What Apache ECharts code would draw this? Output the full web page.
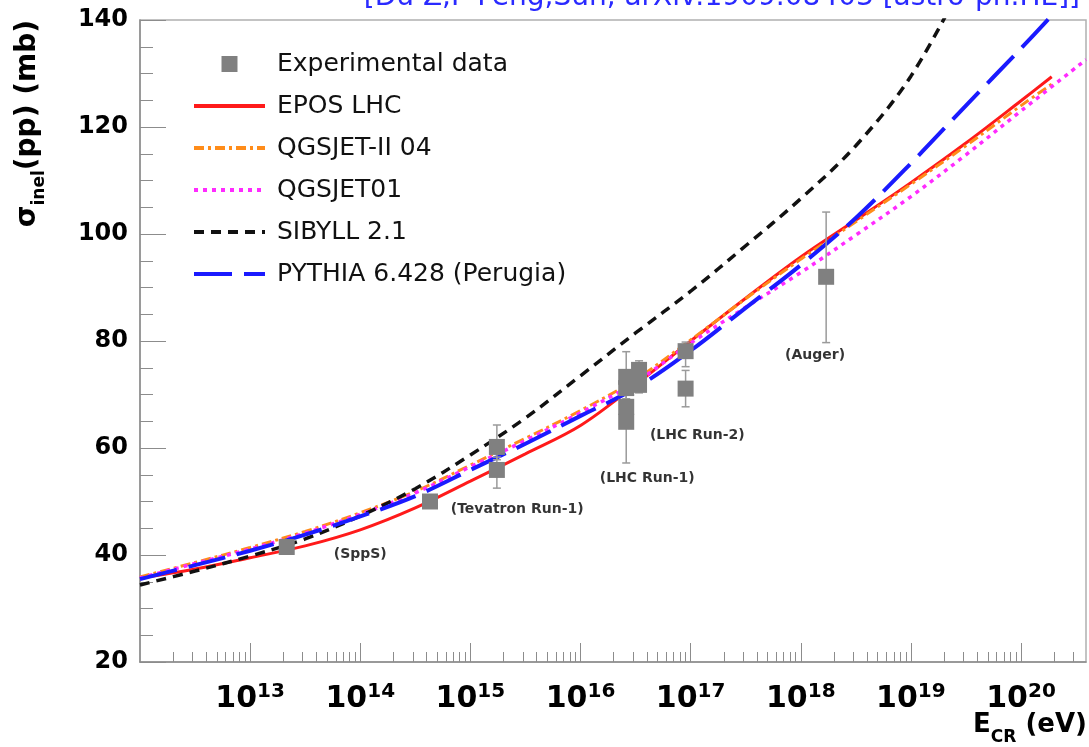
<!DOCTYPE html>
<html>
<head>
<meta charset="utf-8">
<script src="https://cdn.jsdelivr.net/npm/echarts@6/dist/echarts.min.js"></script>
<style>
  html, body { margin: 0; padding: 0; background: #ffffff; }
  #chart { width: 1089px; height: 747px; }
</style>
</head>
<body>
<div id="chart"></div>
<script>
// ---- model curves: cosmic-ray energy (eV) and inelastic pp cross section (mb) ----
const halfDecades = [1e12, 3.16e12, 1e13, 3.16e13, 1e14, 3.16e14, 1e15, 3.16e15,
                     1e16, 3.16e16, 1e17, 3.16e17, 1e18, 3.16e18, 1e19, 3.16e19, 1e20];

const eposEnergy = halfDecades.concat([1.9e20]);
const eposSigma  = [35.7, 37.4, 39.5, 41.7, 44.7, 48.8, 53.8, 58.9, 64.2, 71.8,
                    80.0, 88.0, 95.7, 102.6, 109.6, 117.0, 124.9, 129.4];

const qgsjet2Energy = halfDecades.concat([1.9e20]);
const qgsjet2Sigma  = [35.9, 38.6, 41.4, 44.4, 47.9, 51.9, 56.8, 61.8, 67.0, 72.8,
                       80.2, 87.9, 95.3, 102.3, 109.3, 116.5, 124.0, 128.0];

const qgsjet01Energy = halfDecades.concat([3.9e20]);
const qgsjet01Sigma  = [35.7, 38.4, 41.1, 44.1, 47.6, 51.6, 56.5, 61.4, 66.6, 72.3,
                        79.6, 86.3, 92.8, 99.8, 107.0, 114.8, 123.0, 132.6];

const sibyllEnergy = halfDecades.slice(0, 16);
const sibyllSigma  = [34.4, 37.0, 39.8, 43.0, 47.3, 52.4, 58.7, 65.6, 73.5, 81.5,
                      89.3, 97.8, 106.6, 116.5, 129.5, 148.0];

const pythiaEnergy = halfDecades.concat([2.0e20]);
const pythiaSigma  = [35.5, 38.1, 40.8, 43.8, 47.2, 51.0, 55.9, 60.8, 66.0, 71.2,
                      78.2, 86.2, 94.2, 103.0, 113.2, 124.0, 134.7, 141.3];

// ---- measurements (equivalent fixed-target energy) ----
const expEnergy  = [2.15e13, 4.3e14, 1.74e15, 1.74e15, 2.6e16, 2.6e16, 2.6e16, 2.6e16,
                    3.4e16, 3.4e16, 9.0e16, 9.0e16, 1.7e18];
const expSigma   = [41.5, 50.0, 60.2, 55.9, 73.3, 71.2, 67.7, 64.9, 74.6, 71.8, 78.1, 71.1, 92.0];
const expErrLow  = [0.7, 0.6, 2.4, 3.4, 5.0, 2.0, 2.5, 7.7, 1.7, 1.5, 2.9, 3.4, 12.3];
const expErrHigh = [0.7, 0.6, 4.1, 2.4, 4.7, 2.0, 2.5, 2.5, 1.7, 1.5, 1.7, 3.4, 12.1];

// ---- experiment tags, anchored at (energy, sigma) ----
const tagText   = ['(SppS)', '(Tevatron Run-1)', '(LHC Run-1)', '(LHC Run-2)', '(Auger)'];
const tagEnergy = [1.0e14, 2.66e15, 4.03e16, 1.15e17, 1.35e18];
const tagSigma  = [40.2, 48.6, 54.4, 62.4, 77.4];

// ---- legend entries ----
const legendNames = ['Experimental data', 'EPOS LHC', 'QGSJET-II 04', 'QGSJET01',
                     'SIBYLL 2.1', 'PYTHIA 6.428 (Perugia)'];

// ---- axes ----
const xMin = 1e12, xMax = Math.pow(10, 20.59);
const xMajorTicks = [1e13, 1e14, 1e15, 1e16, 1e17, 1e18, 1e19, 1e20];
const yMin = 20, yMax = 140, yStep = 20;

const FONT = 'DejaVu Sans';
const AXIS_GREY = '#8c8c8c';

// minor ticks of the log axis: 2..9 in every decade
const xMinorTicks = [];
for (let d = 12; d <= 20; d++) {
  for (let k = 2; k <= 9; k++) {
    const v = k * Math.pow(10, d);
    if (v < xMax) xMinorTicks.push(v);
  }
}

const pairs = (xs, ys) => xs.map((x, i) => [x, ys[i]]);

function modelSeries(name, xs, ys, color, width, type) {
  return {
    name: name,
    type: 'line',
    data: pairs(xs, ys),
    smooth: 0.35,
    symbol: 'none',
    clip: true,
    lineStyle: { color: color, width: width, type: type, cap: 'butt' },
    itemStyle: { color: color },
    z: 2
  };
}

const chart = echarts.init(document.getElementById('chart'), null, { renderer: 'canvas' });

const option = {
  backgroundColor: '#ffffff',
  animation: false,
  grid: {
    left: 140, right: 3, top: 20, bottom: 85,
    show: true, borderColor: '#b0b0b0', borderWidth: 1.5, backgroundColor: 'transparent'
  },
  legend: {
    orient: 'vertical',
    left: 187, top: 44,
    itemWidth: 71, itemHeight: 16, itemGap: 12,
    itemStyle: { opacity: 0 },
    lineStyle: { width: 4 },
    data: legendNames.map((n, i) => i === 0
      ? { name: n, icon: 'path://M0,0H10V10H0Z', itemStyle: { opacity: 1, color: '#808080' } }
      : { name: n }),
    textStyle: { fontFamily: FONT, fontSize: 25, color: '#111', lineHeight: 30, padding: [0, 0, 0, 7] },
    selectedMode: false
  },
  xAxis: [
    {
      type: 'log', logBase: 10, min: xMin, max: xMax,
      axisLine: { show: true, lineStyle: { color: AXIS_GREY, width: 1.5 } },
      axisTick: { show: true, inside: true, length: 19, customValues: xMajorTicks,
                  lineStyle: { color: AXIS_GREY, width: 1 } },
      axisLabel: {
        show: true, margin: 20, customValues: xMajorTicks,
        formatter: v => '{b|10}{s|' + Math.round(Math.log10(v)) + '}',
        rich: {
          b: { fontFamily: FONT, fontWeight: 'bold', fontSize: 30, color: '#000', lineHeight: 32, verticalAlign: 'bottom' },
          s: { fontFamily: FONT, fontWeight: 'bold', fontSize: 20, color: '#000', lineHeight: 32, verticalAlign: 'top' }
        }
      },
      splitLine: { show: false }, minorTick: { show: false }
    },
    {
      type: 'log', logBase: 10, min: xMin, max: xMax, position: 'bottom',
      axisLine: { show: false },
      axisTick: { show: true, inside: true, length: 10, customValues: xMinorTicks,
                  lineStyle: { color: AXIS_GREY, width: 1 } },
      axisLabel: { show: false },
      splitLine: { show: false }
    }
  ],
  yAxis: {
    type: 'value', min: yMin, max: yMax, interval: yStep,
    axisLine: { show: true, lineStyle: { color: AXIS_GREY, width: 1.5 } },
    axisTick: { show: true, inside: true, length: 26, lineStyle: { color: AXIS_GREY, width: 1 } },
    minorTick: { show: true, splitNumber: 4, length: 13, lineStyle: { color: AXIS_GREY, width: 1 } },
    axisLabel: { margin: 12, fontFamily: FONT, fontWeight: 'bold', fontSize: 24, color: '#000' },
    splitLine: { show: false }
  },
  graphic: [
    {
      type: 'text', x: 1080, y: 12, silent: true,
      style: {
        text: '[Du Z,F-Feng,Sun, arXiv:1909.08403 [astro-ph.HE]]',
        align: 'right', verticalAlign: 'bottom',
        font: '28px "DejaVu Sans"', fill: '#2a2aff'
      }
    },
    {
      type: 'text', x: 28, y: 20, rotation: Math.PI / 2, silent: true,
      style: {
        text: '{a|σ}{s|inel}{a|(pp) (mb)}',
        align: 'right', verticalAlign: 'middle',
        rich: {
          a: { fontFamily: FONT, fontWeight: 'bold', fontSize: 28, fill: '#000', lineHeight: 40, verticalAlign: 'middle' },
          s: { fontFamily: FONT, fontWeight: 'bold', fontSize: 17, fill: '#000', lineHeight: 40, verticalAlign: 'bottom' }
        }
      }
    },
    {
      type: 'text', x: 1087, y: 746, silent: true,
      style: {
        text: '{a|E}{s|CR}{a| (eV)}',
        align: 'right', verticalAlign: 'bottom',
        rich: {
          a: { fontFamily: FONT, fontWeight: 'bold', fontSize: 26, fill: '#000', lineHeight: 42, verticalAlign: 'middle' },
          s: { fontFamily: FONT, fontWeight: 'bold', fontSize: 17, fill: '#000', lineHeight: 42, verticalAlign: 'bottom' }
        }
      }
    }
  ],
  series: [
    modelSeries('EPOS LHC', eposEnergy, eposSigma, '#ff1a1a', 3, 'solid'),
    modelSeries('QGSJET-II 04', qgsjet2Energy, qgsjet2Sigma, '#ff8c1a', 3, [10, 4, 3, 4]),
    modelSeries('QGSJET01', qgsjet01Energy, qgsjet01Sigma, '#ff2bff', 3.5, [4, 5]),
    modelSeries('SIBYLL 2.1', sibyllEnergy, sibyllSigma, '#111111', 3.5, [10, 7]),
    modelSeries('PYTHIA 6.428 (Perugia)', pythiaEnergy, pythiaSigma, '#1a1aff', 4, [38, 12]),
    {
      name: 'error bars',
      type: 'custom',
      z: 4,
      silent: true,
      data: expEnergy.map((e, i) => [e, expSigma[i], expErrLow[i], expErrHigh[i]]),
      renderItem: function (params, api) {
        const x = api.value(0), y = api.value(1);
        const top = api.coord([x, y + api.value(3)]);
        const bot = api.coord([x, y - api.value(2)]);
        const cap = 4;
        const st = { stroke: '#9a9a9a', lineWidth: 1.5 };
        return {
          type: 'group',
          children: [
            { type: 'line', shape: { x1: top[0], y1: top[1], x2: bot[0], y2: bot[1] }, style: st },
            { type: 'line', shape: { x1: top[0] - cap, y1: top[1], x2: top[0] + cap, y2: top[1] }, style: st },
            { type: 'line', shape: { x1: bot[0] - cap, y1: bot[1], x2: bot[0] + cap, y2: bot[1] }, style: st }
          ]
        };
      }
    },
    {
      name: 'Experimental data',
      type: 'scatter',
      symbol: 'rect',
      symbolSize: 16,
      data: pairs(expEnergy, expSigma),
      itemStyle: { color: '#808080', opacity: 1 },
      z: 5
    },
    {
      name: 'tags',
      type: 'scatter',
      symbolSize: 1,
      itemStyle: { color: 'rgba(0,0,0,0)' },
      silent: true,
      data: tagText.map((t, i) => ({ name: t, value: [tagEnergy[i], tagSigma[i]] })),
      label: {
        show: true, position: 'inside', formatter: '{b}',
        fontFamily: FONT, fontWeight: 'bold', fontSize: 14, color: '#000'
      },
      z: 6
    }
  ]
};

chart.setOption(option);
</script>
</body>
</html>
